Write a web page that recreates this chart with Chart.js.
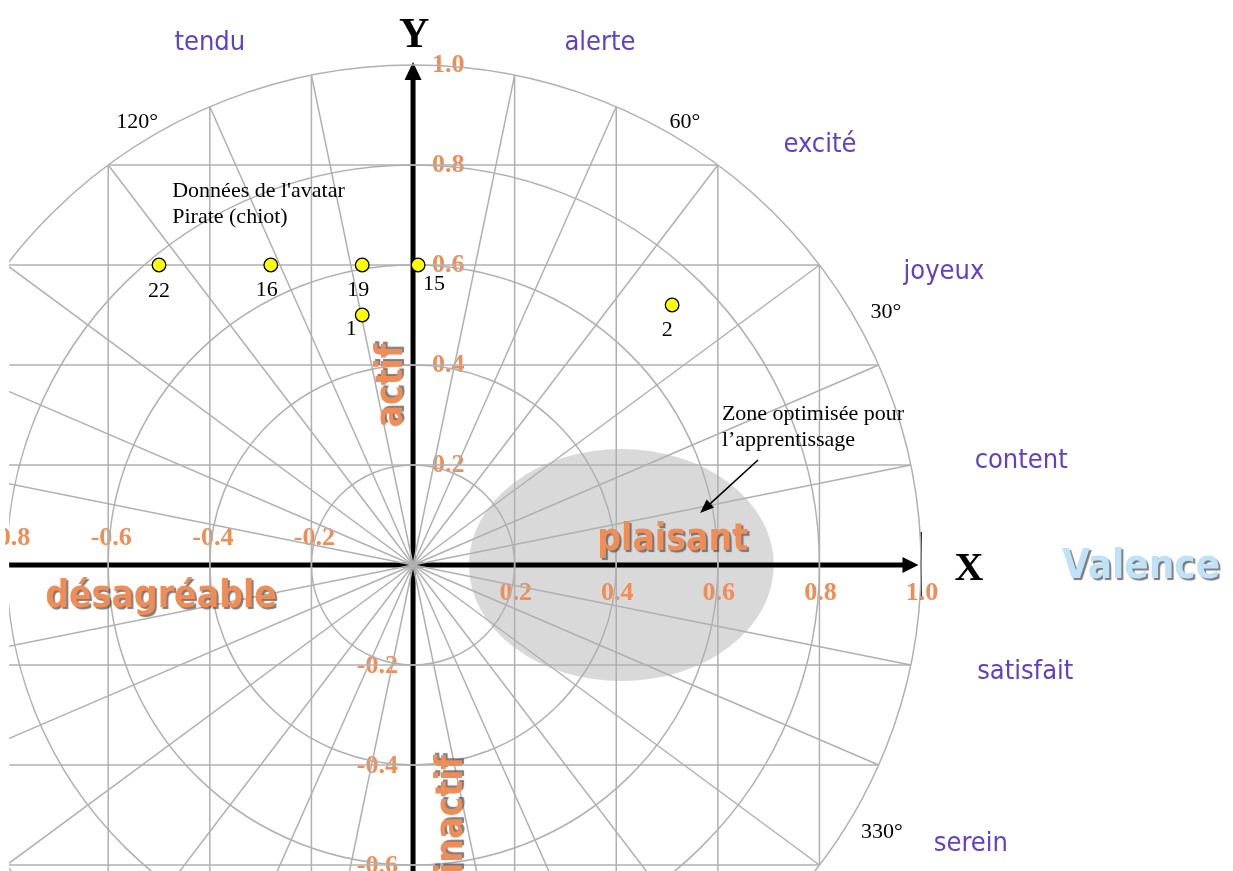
<!DOCTYPE html>
<html>
<head>
<meta charset="utf-8">
<script src="https://cdn.jsdelivr.net/npm/chart.js@4.4.1/dist/chart.umd.min.js"></script>
<style>
html,body{margin:0;padding:0;background:#ffffff;overflow:hidden}
canvas{display:block}
</style>
</head>
<body>
<canvas id="c" width="1233" height="871"></canvas>
<script>
// ---------------- DATA ----------------
const pointIds = ['22', '16', '19', '15', '1', '2'];
const valence  = [-0.50, -0.28, -0.10, 0.01, -0.10, 0.51];
const arousal  = [0.60, 0.60, 0.60, 0.60, 0.50, 0.52];

const xTickValues = [-0.8, -0.6, -0.4, -0.2, 0.2, 0.4, 0.6, 0.8, 1.0];
const xTickLabels = ['-0.8', '-0.6', '-0.4', '-0.2', '0.2', '0.4', '0.6', '0.8', '1.0'];
const yTickValues = [-0.6, -0.4, -0.2, 0.2, 0.4, 0.6, 0.8, 1.0];
const yTickLabels = ['-0.6', '-0.4', '-0.2', '0.2', '0.4', '0.6', '0.8', '1.0'];

const gridRadii = [0.2, 0.4, 0.6, 0.8, 1.0];
const gridLines = [-0.8, -0.6, -0.4, -0.2, 0.2, 0.4, 0.6, 0.8];

const emotionWords = ['tendu', 'alerte', 'excité', 'joyeux', 'content', 'satisfait', 'serein'];
const angleLabels  = ['120°', '60°', '30°', '330°'];
const poleWords    = ['actif', 'inactif', 'plaisant', 'désagréable'];
const axisNames    = ['X', 'Y', 'Valence'];
const avatarNote   = ["Données de l'avatar", 'Pirate (chiot)'];
const zoneNote     = ['Zone optimisée pour', 'l’apprentissage'];

const zoneCenter = [0.41, 0.0];
const zoneRadii  = [0.30, 0.232];

// ---------------- LAYOUT (data units) ----------------
const view = { xMin: -0.813, xMax: 1.614, yMin: -0.612, yMax: 1.13, clipX: -0.795 };
const emotionPos = [[-0.40, 1.03], [0.368, 1.03], [0.801, 0.826], [1.045, 0.572], [1.197, 0.194], [1.205, -0.228], [1.098, -0.572]];
const anglePos   = [[-0.543, 0.874], [0.535, 0.874], [0.931, 0.494], [0.923, -0.546]];
const polePos    = [[-0.0217, 0.359], [0.0965, -0.38], [0.511, 0.03], [-0.496, -0.084]];
const axisNamePos = [[1.094, -0.03], [0.002, 1.036], [1.433, -0.026]];
const avatarNotePos = [[-0.474, 0.736], [-0.474, 0.684]];
const zoneNotePos   = [[0.608, 0.29], [0.608, 0.238]];
const zoneArrow     = [[0.679, 0.21], [0.565, 0.104]];
const pointLabelOffset = [[0, 32], [-4, 31], [-4, 31], [16, 25], [-11, 20], [-5, 31]]; // px

const ORANGE = '#f08c55';
const PURPLE = '#6040c8';
const GRID = '#b0b0b0';
const SANS_C = '"DejaVu Sans Condensed", "DejaVu Sans", sans-serif';
const SERIF = '"Liberation Serif", "Times New Roman", serif';

function line(ctx, x1, y1, x2, y2) {
  ctx.beginPath(); ctx.moveTo(x1, y1); ctx.lineTo(x2, y2); ctx.stroke();
}
function arrowHead(ctx, tx, ty, fx, fy, len, half) {
  const a = Math.atan2(ty - fy, tx - fx);
  ctx.beginPath();
  ctx.moveTo(tx, ty);
  ctx.lineTo(tx - len * Math.cos(a) + half * Math.sin(a), ty - len * Math.sin(a) - half * Math.cos(a));
  ctx.lineTo(tx - len * Math.cos(a) - half * Math.sin(a), ty - len * Math.sin(a) + half * Math.cos(a));
  ctx.closePath(); ctx.fill();
}

const backgroundPlugin = {
  id: 'circumplexBackground',
  beforeDatasetsDraw(chart) {
    const ctx = chart.ctx, xs = chart.scales.x, ys = chart.scales.y;
    const X = v => xs.getPixelForValue(v), Y = v => ys.getPixelForValue(v);
    const ox = X(0), oy = Y(0);
    const W = chart.width, H = chart.height;
    ctx.save();

    // optimised learning zone
    ctx.fillStyle = '#d9d9d9';
    ctx.beginPath();
    ctx.ellipse(X(zoneCenter[0]), Y(zoneCenter[1]),
      Math.abs(X(zoneRadii[0]) - ox), Math.abs(Y(zoneRadii[1]) - oy), 0, 0, Math.PI * 2);
    ctx.fill();

    // axes
    ctx.strokeStyle = '#000'; ctx.fillStyle = '#000'; ctx.lineWidth = 5;
    const xLeft = X(view.clipX), xTip = X(0.995);
    line(ctx, xLeft, oy, xTip - 12, oy);
    arrowHead(ctx, xTip, oy, xLeft, oy, 16, 8);
    const yTip = Y(1.006);
    line(ctx, ox, H + 5, ox, yTip + 12);
    arrowHead(ctx, ox, yTip, ox, H, 18, 8.5);
    ctx.lineWidth = 1.5;
    line(ctx, X(1.0), Y(0.066), X(1.0), Y(-0.07));

    // tick labels
    ctx.save();
    ctx.beginPath(); ctx.rect(5, 0, W, H); ctx.clip();
    ctx.fillStyle = ORANGE;
    ctx.font = 'bold 26px ' + SERIF;
    ctx.textBaseline = 'alphabetic';
    xTickValues.forEach((v, i) => {
      ctx.textAlign = 'center';
      if (v > 0) ctx.fillText(xTickLabels[i], X(v) + 1, oy + 35);
      else ctx.fillText(xTickLabels[i], X(v) + 3, oy - 20);
    });
    yTickValues.forEach((v, i) => {
      if (v > 0) { ctx.textAlign = 'left'; ctx.fillText(yTickLabels[i], ox + 19, Y(v) + 7); }
      else { ctx.textAlign = 'right'; ctx.fillText(yTickLabels[i], ox - 15, Y(v) + 8); }
    });
    ctx.restore();

    // grid (on top of axes)
    ctx.beginPath(); ctx.rect(xLeft, 0, W, H); ctx.clip();
    ctx.strokeStyle = GRID; ctx.lineWidth = 1.5;
    gridRadii.forEach(r => {
      ctx.beginPath();
      ctx.ellipse(ox, oy, Math.abs(X(r) - ox), Math.abs(Y(r) - oy), 0, 0, Math.PI * 2);
      ctx.stroke();
    });
    const ends = new Map();
    gridLines.forEach(v => {
      const h = Math.sqrt(1 - v * v);
      line(ctx, X(v), Y(h), X(v), Y(-h));
      line(ctx, X(-h), Y(v), X(h), Y(v));
      [[v, h], [v, -h], [h, v], [-h, v]].forEach(p => {
        const key = Math.round(Math.atan2(p[1], p[0]) * 1000);
        ends.set(key, p);
      });
    });
    ends.forEach(p => line(ctx, ox, oy, X(p[0]), Y(p[1])));
    ctx.restore();
  }
};

const textPlugin = {
  id: 'circumplexText',
  afterDatasetsDraw(chart) {
    const ctx = chart.ctx, xs = chart.scales.x, ys = chart.scales.y;
    const X = v => xs.getPixelForValue(v), Y = v => ys.getPixelForValue(v);
    ctx.save();
    ctx.textBaseline = 'alphabetic';

    // point labels
    ctx.fillStyle = '#000';
    ctx.font = '22px ' + SERIF;
    ctx.textAlign = 'center';
    pointIds.forEach((id, i) => {
      ctx.fillText(id, X(valence[i]) + pointLabelOffset[i][0], Y(arousal[i]) + pointLabelOffset[i][1]);
    });

    // angle labels
    ctx.font = '22px ' + SERIF;
    angleLabels.forEach((t, i) => ctx.fillText(t, X(anglePos[i][0]), Y(anglePos[i][1])));

    // notes
    ctx.textAlign = 'left';
    avatarNote.forEach((t, i) => ctx.fillText(t, X(avatarNotePos[i][0]), Y(avatarNotePos[i][1])));
    zoneNote.forEach((t, i) => ctx.fillText(t, X(zoneNotePos[i][0]), Y(zoneNotePos[i][1])));

    // zone arrow
    ctx.strokeStyle = '#000'; ctx.fillStyle = '#000'; ctx.lineWidth = 1.6;
    const ax1 = X(zoneArrow[0][0]), ay1 = Y(zoneArrow[0][1]);
    const ax2 = X(zoneArrow[1][0]), ay2 = Y(zoneArrow[1][1]);
    line(ctx, ax1, ay1, ax2 + (ax1 - ax2) * 0.12, ay2 + (ay1 - ay2) * 0.12);
    arrowHead(ctx, ax2, ay2, ax1, ay1, 14, 5.5);

    // axis letters
    ctx.font = 'bold 40px ' + SERIF;
    ctx.textAlign = 'center';
    ctx.fillText(axisNames[0], X(axisNamePos[0][0]), Y(axisNamePos[0][1]));
    ctx.font = 'bold 42px ' + SERIF;
    ctx.fillText(axisNames[1], X(axisNamePos[1][0]), Y(axisNamePos[1][1]));

    // emotion words
    ctx.fillStyle = PURPLE;
    ctx.font = '27px ' + SANS_C;
    emotionWords.forEach((t, i) => ctx.fillText(t, X(emotionPos[i][0]), Y(emotionPos[i][1])));

    // pole words with shadow
    ctx.shadowColor = 'rgba(80,80,80,0.75)';
    ctx.shadowOffsetX = 2; ctx.shadowOffsetY = 2; ctx.shadowBlur = 1;
    ctx.fillStyle = ORANGE;
    ctx.font = 'bold 37px ' + SANS_C;
    // actif (rotated)
    ctx.save();
    ctx.translate(X(polePos[0][0]), Y(polePos[0][1]));
    ctx.rotate(-Math.PI / 2);
    ctx.textAlign = 'center';
    ctx.shadowOffsetX = 2; ctx.shadowOffsetY = -2;
    ctx.fillText(poleWords[0], 0, 0);
    ctx.restore();
    // inactif (rotated)
    ctx.save();
    ctx.translate(X(polePos[1][0]), Y(polePos[1][1]));
    ctx.rotate(-Math.PI / 2);
    ctx.textAlign = 'right';
    ctx.shadowOffsetX = 2; ctx.shadowOffsetY = -2;
    ctx.fillText(poleWords[1], 0, 0);
    ctx.restore();
    ctx.textAlign = 'center';
    ctx.fillText(poleWords[2], X(polePos[2][0]), Y(polePos[2][1]));
    ctx.fillText(poleWords[3], X(polePos[3][0]), Y(polePos[3][1]));

    // Valence
    ctx.fillStyle = '#bfe2f6';
    ctx.shadowColor = 'rgba(90,90,90,0.8)';
    ctx.font = 'bold 40px ' + SANS_C;
    ctx.fillText(axisNames[2], X(axisNamePos[2][0]), Y(axisNamePos[2][1]));
    ctx.restore();
  }
};

new Chart(document.getElementById('c'), {
  type: 'scatter',
  data: {
    datasets: [{
      label: 'Pirate (chiot)',
      data: valence.map((v, i) => ({ x: v, y: arousal[i] })),
      backgroundColor: '#ffff00',
      borderColor: '#000000',
      borderWidth: 1.3,
      pointRadius: 6.8,
      pointHoverRadius: 6.8
    }]
  },
  options: {
    responsive: false,
    animation: false,
    devicePixelRatio: 1,
    events: [],
    layout: { padding: 0, autoPadding: false },
    plugins: { legend: { display: false }, tooltip: { enabled: false } },
    scales: {
      x: { type: 'linear', min: view.xMin, max: view.xMax, display: false },
      y: { type: 'linear', min: view.yMin, max: view.yMax, display: false }
    }
  },
  plugins: [backgroundPlugin, textPlugin]
});
</script>
</body>
</html>
